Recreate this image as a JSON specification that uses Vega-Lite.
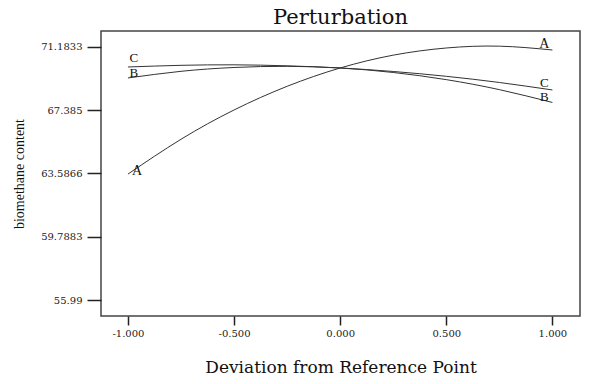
{
  "$schema": "https://vega.github.io/schema/vega-lite/v6.json",
  "width": 479,
  "height": 285,
  "autosize": "none",
  "padding": {"left": 101, "top": 31, "right": 20, "bottom": 68},
  "background": "white",
  "title": {"text": "Perturbation", "font": "DejaVu Serif", "fontSize": 21, "fontWeight": "normal", "color": "#111", "anchor": "middle", "offset": 3},
  "config": {
    "view": {"stroke": "#444", "strokeWidth": 1.5},
    "axis": {"domain": false, "grid": false, "tickColor": "#222", "tickWidth": 1.5, "labelColor": "#222", "labelFont": "DejaVu Serif", "labelFontSize": 10, "titleColor": "#111", "titleFontWeight": "normal"}
  },
  "data": {
    "values": [
      {"factor": "A", "deviation": -1, "content": 63.55},
      {"factor": "A", "deviation": -0.75, "content": 65.64},
      {"factor": "A", "deviation": -0.5, "content": 67.40},
      {"factor": "A", "deviation": -0.25, "content": 68.82},
      {"factor": "A", "deviation": 0, "content": 69.92},
      {"factor": "A", "deviation": 0.25, "content": 70.69},
      {"factor": "A", "deviation": 0.5, "content": 71.12},
      {"factor": "A", "deviation": 0.75, "content": 71.23},
      {"factor": "A", "deviation": 1, "content": 71.00},
      {"factor": "B", "deviation": -1, "content": 69.32},
      {"factor": "B", "deviation": -0.75, "content": 69.72},
      {"factor": "B", "deviation": -0.5, "content": 69.95},
      {"factor": "B", "deviation": -0.25, "content": 70.02},
      {"factor": "B", "deviation": 0, "content": 69.92},
      {"factor": "B", "deviation": 0.25, "content": 69.65},
      {"factor": "B", "deviation": 0.5, "content": 69.22},
      {"factor": "B", "deviation": 0.75, "content": 68.62},
      {"factor": "B", "deviation": 1, "content": 67.85},
      {"factor": "C", "deviation": -1, "content": 69.98},
      {"factor": "C", "deviation": -0.75, "content": 70.08},
      {"factor": "C", "deviation": -0.5, "content": 70.11},
      {"factor": "C", "deviation": -0.25, "content": 70.05},
      {"factor": "C", "deviation": 0, "content": 69.92},
      {"factor": "C", "deviation": 0.25, "content": 69.71},
      {"factor": "C", "deviation": 0.5, "content": 69.42},
      {"factor": "C", "deviation": 0.75, "content": 69.05},
      {"factor": "C", "deviation": 1, "content": 68.60}
    ]
  },
  "encoding": {
    "x": {"field": "deviation", "type": "quantitative",
      "scale": {"domain": [-1.127, 1.13], "nice": false, "zero": false},
      "axis": {"values": [-1, -0.5, 0, 0.5, 1], "format": ".3f", "labelExpr": "replace(datum.label, '\u2212', '-')", "tickSize": 9, "labelPadding": 3,
        "title": "Deviation from Reference Point", "titleFont": "DejaVu Serif", "titleFontSize": 17, "titlePadding": 21}},
    "y": {"field": "content", "type": "quantitative",
      "scale": {"domain": [55.03, 72.14], "nice": false, "zero": false},
      "axis": {"values": [55.99, 59.7883, 63.5866, 67.385, 71.1833], "format": ".4~f", "tickSize": 14, "labelPadding": 5,
        "title": "biomethane content", "titleFont": "Liberation Serif", "titleFontSize": 14, "titlePadding": 14}}
  },
  "layer": [
    {"mark": {"type": "line", "interpolate": "natural", "color": "#333", "strokeWidth": 1},
     "encoding": {"detail": {"field": "factor"}}},
    {"transform": [{"filter": "datum.deviation == -1 && datum.factor == 'C'"}],
     "mark": {"type": "text", "font": "Liberation Serif", "fontSize": 13, "color": "#111", "align": "center", "baseline": "middle", "dx": 6, "dy": -9},
     "encoding": {"text": {"field": "factor"}}},
    {"transform": [{"filter": "datum.deviation == -1 && datum.factor == 'B'"}],
     "mark": {"type": "text", "font": "Liberation Serif", "fontSize": 13, "color": "#111", "align": "center", "baseline": "middle", "dx": 6, "dy": -5},
     "encoding": {"text": {"field": "factor"}}},
    {"transform": [{"filter": "datum.deviation == -1 && datum.factor == 'A'"}],
     "mark": {"type": "text", "font": "Liberation Serif", "fontSize": 14, "color": "#111", "align": "center", "baseline": "middle", "dx": 9, "dy": -3},
     "encoding": {"text": {"field": "factor"}}},
    {"transform": [{"filter": "datum.deviation == 1 && datum.factor == 'C'"}],
     "mark": {"type": "text", "font": "Liberation Serif", "fontSize": 13, "color": "#111", "align": "center", "baseline": "middle", "dx": -8, "dy": -7},
     "encoding": {"text": {"field": "factor"}}},
    {"transform": [{"filter": "datum.deviation == 1 && datum.factor == 'B'"}],
     "mark": {"type": "text", "font": "Liberation Serif", "fontSize": 13, "color": "#111", "align": "center", "baseline": "middle", "dx": -8, "dy": -5},
     "encoding": {"text": {"field": "factor"}}},
    {"transform": [{"filter": "datum.deviation == 1 && datum.factor == 'A'"}],
     "mark": {"type": "text", "font": "Liberation Serif", "fontSize": 14, "color": "#111", "align": "center", "baseline": "middle", "dx": -8, "dy": -6},
     "encoding": {"text": {"field": "factor"}}}
  ]
}
